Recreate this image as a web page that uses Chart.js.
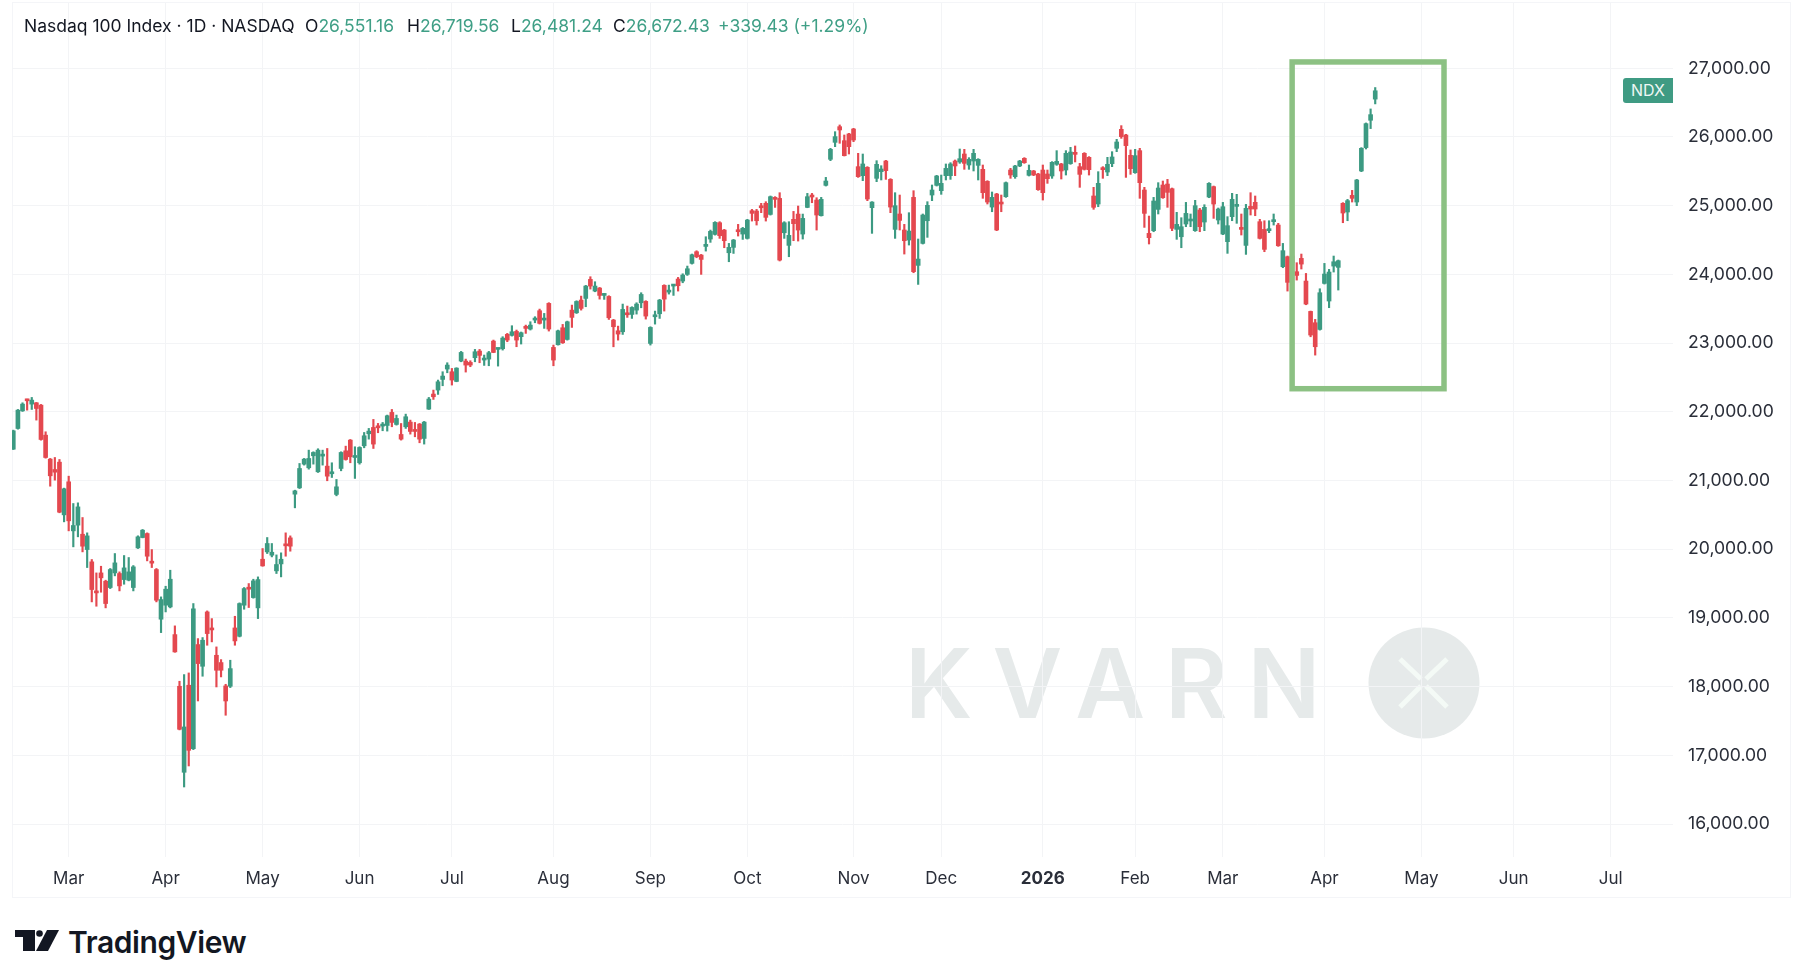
<!DOCTYPE html>
<html>
<head>
<meta charset="utf-8">
<title>Nasdaq 100 Index</title>
<script src="https://cdn.jsdelivr.net/npm/chart.js@4"></script>
<style>
  html, body { margin: 0; padding: 0; background: #fff; }
  #page { position: relative; width: 1802px; height: 968px; overflow: hidden; font-family: Inter, sans-serif; color: #131722; }
  #expensesWrap { position: absolute; left: 0; top: 0; width: 1802px; height: 968px; z-index: 1; }
  #header span { position: absolute; top: 15px; font-size: 17.5px; line-height: 22px; white-space: nowrap; z-index: 2; }
  #header b { font-weight: 400; color: #3f9f86; }
  #kvarn { position: absolute; left: 905px; top: 625px; font-size: 96px; line-height: 116px; font-weight: 600; letter-spacing: 20px; color: #e6eaea; white-space: nowrap; }
  #kvarnLogo { position: absolute; left: 1368px; top: 627px; }
  #ndx { position: absolute; left: 1623px; top: 78px; width: 50px; height: 25px; line-height: 25px; text-align: center; background: #3f9b83; color: #eef7f4; font-size: 16px; border-radius: 3px 0 0 3px; z-index: 2; }
  #tvLogo { position: absolute; left: 15px; top: 930px; }
  #tvName { position: absolute; left: 68px; top: 924px; font-size: 30px; line-height: 36px; font-weight: 600; letter-spacing: -0.4px; color: #131722; white-space: nowrap; }
</style>
</head>
<body>
<div id="page">
  <div id="kvarn">KVARN</div>
  <svg id="kvarnLogo" width="112" height="112" viewBox="0 0 112 112">
    <circle cx="56" cy="56" r="55.5" fill="#e6eaea"/>
    <g stroke="#f4faf6" stroke-width="5" fill="none">
      <path d="M32 32 L53 52 M79 32 L58 52 M32 80 L53 59 M79 80 L58 59"/>
    </g>
  </svg>
  <div id="expensesWrap"><canvas id="ndxChart" width="1802" height="968"></canvas></div>
  <div id="header">
    <span style="left:24px">Nasdaq 100 Index · 1D · NASDAQ</span>
    <span style="left:305px">O<b>26,551.16</b></span>
    <span style="left:407px">H<b>26,719.56</b></span>
    <span style="left:511px">L<b>26,481.24</b></span>
    <span style="left:613px">C<b>26,672.43</b></span>
    <span style="left:718px"><b>+339.43 (+1.29%)</b></span>
  </div>
  <div id="ndx">NDX</div>
  <svg id="tvLogo" width="44" height="22" viewBox="0 0 44 22">
    <path fill="#131722" d="M0 0H20V21H8V7H0Z"/>
    <circle fill="#131722" cx="24.5" cy="3.5" r="3.3"/>
    <path fill="#131722" d="M32 0H44L33 21H21Z"/>
  </svg>
  <div id="tvName">TradingView</div>
</div>
<script>
// Daily candles, oldest first
var opens = [
  21456,21757,22014,22179,22112,22131,22097,21660,21311,21160,
  21267,20500,20981,20267,20350,20218,19995,19816,19393,19655,
  19534,19442,19655,19646,19558,19549,19442,20019,20170,20228,
  19816,19704,18981,19185,19160,18757,18005,16753,18020,17097,
  18612,18296,19087,18840,18456,18350,18010,18005,18854,18733,
  19185,19432,19296,19146,19854,19961,19913,19685,19786,20063,
  20165,20801,20893,21238,21185,21360,21127,21355,21209,21098,
  20797,21175,21432,21588,21335,21258,21505,21680,21772,21777,
  21792,21801,21991,21816,21670,21782,21850,21724,21821,21612,
  22039,22258,22316,22471,22622,22583,22442,22738,22738,22719,
  22787,22884,22753,22767,23029,22908,22918,23127,23112,23170,
  23093,23233,23204,23335,23471,23335,23578,22937,22976,23223,
  23053,23480,23441,23626,23650,23927,23757,23801,23694,23679,
  23335,23179,23165,23441,23417,23480,23587,23607,22995,23383,
  23427,23840,23742,23830,23932,23903,24000,24160,24330,24281,
  24407,24514,24582,24752,24645,24315,24393,24636,24587,24524,
  24927,24922,24985,25034,24873,25121,25106,24606,24422,24801,
  24878,24587,24975,25140,25082,24854,25296,25675,25922,26150,
  25946,26044,26116,25568,25437,25558,24971,25398,25495,25650,
  25383,24655,24879,24646,24500,25121,24131,24451,24781,25155,
  25296,25218,25437,25437,25650,25636,25752,25592,25650,25587,
  25529,25354,24980,25170,25034,25131,25519,25422,25578,25689,
  25442,25505,25461,25519,25461,25432,25602,25607,25519,25612,
  25762,25568,25762,25704,25141,25024,25544,25490,25612,25835,
  26111,26029,25733,25480,25801,25228,24597,24636,24946,25301,
  25315,25247,24655,24548,24733,24777,24636,24937,24762,25126,
  25277,24791,24587,24476,24840,24990,24670,24422,24990,25049,
  24767,24655,24636,24767,24718,24112,24257,24267,24039,24233,
  23903,23461,23296,23199,23869,23612,24121,24102,25034,24908,
  25150,25053,25505,25845,26243,26551.16
];
var highs = [
  21733,22034,22131,22184,22209,22136,22107,21709,21321,21335,
  21306,20889,21063,20665,20675,20461,20238,19850,19655,19752,
  19549,19719,19937,19670,19908,19879,19762,20195,20287,20238,
  19995,19719,19306,19461,19694,18884,18078,18175,18199,19209,
  18699,18714,19102,18990,18578,18393,18034,18384,19024,19219,
  19442,19500,19563,19597,20010,20170,20083,19917,19947,20238,
  20194,20859,21248,21321,21442,21418,21462,21442,21466,21258,
  21015,21418,21500,21597,21491,21491,21699,21758,21889,21831,
  21845,21952,22034,21952,21830,21966,21879,21845,21830,21860,
  22209,22316,22462,22583,22714,22631,22641,22879,22767,22743,
  22908,22908,22826,22879,23044,22923,23093,23141,23253,23190,
  23161,23262,23311,23384,23495,23432,23588,22971,23189,23272,
  23320,23553,23616,23684,23840,23966,23893,23810,23723,23689,
  23345,23247,23568,23539,23529,23587,23733,23617,23238,23466,
  23636,23849,23844,23849,23956,24009,24121,24296,24344,24291,
  24548,24645,24767,24767,24655,24451,24509,24728,24684,24801,
  24946,24946,25034,25058,25141,25131,25189,24767,24767,24917,
  24995,24878,25179,25179,25116,25121,25412,25835,26077,26175,
  26029,26053,26126,25762,25752,25568,25058,25655,25582,25660,
  25393,25189,25155,24728,24898,25218,24515,24879,25058,25301,
  25442,25446,25607,25626,25665,25825,25820,25699,25820,25684,
  25592,25364,25199,25180,25155,25345,25544,25587,25660,25699,
  25592,25514,25471,25592,25519,25641,25801,25616,25801,25849,
  25869,25616,25772,25714,25267,25495,25568,25704,25786,25966,
  26165,26039,25811,25820,25835,25267,24849,25121,25335,25359,
  25383,25257,24903,24825,25048,24879,25078,24961,25014,25335,
  25286,24966,25048,24840,25180,25165,24879,25019,25189,25141,
  24801,24781,24781,24879,24743,24451,24267,24451,24170,24296,
  24014,23466,23345,23791,24160,24073,24267,24209,25044,25092,
  25223,25383,25845,26204,26408,26719.56
];
var lows = [
  21451,21747,22005,22024,22034,21879,21587,21325,20917,21005,
  20530,20398,20267,20034,20180,19961,19733,19233,19170,19374,
  19146,19427,19612,19393,19490,19539,19393,20010,20165,19830,
  19733,19233,18786,19087,19146,18500,17370,16539,16845,17083,
  17791,18151,18602,18651,17995,18141,17583,17986,18602,18723,
  19126,19151,19287,18990,19752,19937,19888,19646,19597,19898,
  19971,20602,20883,21224,21165,21238,21117,21224,20996,21044,
  20777,21141,21296,21258,21030,21238,21476,21602,21466,21695,
  21724,21719,21782,21806,21588,21758,21675,21636,21549,21530,
  22034,22180,22253,22379,22568,22389,22437,22728,22578,22656,
  22728,22714,22675,22670,22860,22665,22898,23020,23102,22947,
  22986,23141,23190,23296,23277,23214,23175,22670,22971,22995,
  23043,23228,23431,23480,23529,23786,23747,23640,23636,23344,
  22946,23043,23126,23374,23359,23422,23514,23349,22971,23276,
  23359,23466,23713,23694,23757,23878,23985,24150,24242,24000,
  24339,24466,24572,24524,24388,24184,24305,24558,24509,24514,
  24776,24718,24898,24776,24863,24975,24195,24524,24257,24490,
  24485,24514,24970,25043,24645,24849,25286,25655,25859,25908,
  25723,25752,25932,25412,25364,25073,24597,25349,25374,25383,
  24898,24524,24646,24296,24427,24024,23854,24442,24539,25073,
  25286,25165,25374,25383,25437,25616,25529,25529,25505,25374,
  25107,25024,24912,24636,24912,25121,25398,25398,25568,25616,
  25432,25437,25223,25082,25325,25398,25587,25388,25446,25602,
  25636,25267,25519,25446,24947,24985,25398,25437,25568,25786,
  25980,25412,25456,25471,25107,24684,24442,24621,24879,25107,
  24976,24636,24510,24388,24694,24694,24626,24621,24636,25116,
  24815,24733,24578,24306,24781,24743,24573,24291,24864,24854,
  24515,24330,24607,24718,24408,24097,23757,24087,23917,24078,
  23558,23092,22825,23189,23859,23515,24034,23772,24752,24781,
  25053,25000,25495,25825,26122,26481.24
];
var closes = [
  21723,22024,22112,22160,22170,22048,21597,21335,21068,21121,
  20539,20879,20413,20345,20616,20044,20194,19413,19364,19583,
  19209,19704,19801,19466,19728,19670,19743,20180,20277,19898,
  19797,19257,19267,19418,19563,18505,17379,17413,17073,19131,
  18335,18675,18772,18825,18238,18238,17791,18262,18665,19209,
  19427,19418,19539,19558,19757,20083,19956,19777,19854,20049,
  20044,20849,21175,21311,21321,21408,21442,21364,21063,21107,
  20908,21408,21306,21345,21345,21481,21651,21719,21530,21767,
  21806,21942,21845,21903,21602,21928,21714,21714,21602,21850,
  22185,22219,22437,22520,22680,22462,22636,22864,22680,22680,
  22874,22821,22772,22860,22864,22918,23073,23044,23165,23044,
  23151,23214,23262,23359,23287,23345,23204,22753,23179,23005,
  23310,23374,23606,23505,23830,23830,23830,23694,23708,23369,
  23238,23131,23490,23412,23519,23568,23708,23393,23228,23403,
  23626,23640,23767,23840,23835,23990,24082,24286,24257,24218,
  24437,24626,24757,24563,24490,24393,24500,24621,24670,24791,
  24888,24781,24970,24830,25131,25092,24208,24752,24568,24738,
  24645,24815,25131,25126,24864,25092,25359,25820,26005,26102,
  25728,25859,25956,25422,25607,25097,25053,25602,25534,25510,
  24980,25000,24786,24490,24631,24039,24223,24864,25005,25228,
  25432,25325,25543,25607,25578,25684,25616,25675,25762,25675,
  25189,25053,25121,24646,25024,25335,25447,25578,25650,25626,
  25514,25447,25233,25189,25393,25631,25645,25505,25762,25781,
  25747,25456,25529,25524,24976,25325,25524,25602,25709,25927,
  26005,25874,25539,25728,25335,24888,24534,25068,25257,25116,
  25194,24670,24728,24694,24888,24786,25000,24694,24976,25325,
  25024,24951,24985,24709,25092,25000,24655,24961,24951,24951,
  24524,24364,24655,24781,24417,24345,23884,24170,23985,24150,
  23568,23117,22947,23733,24005,24034,24184,24199,24893,25073,
  25107,25374,25835,26194,26325,26672.43
];

// Bar number of each month label, counted from the first candle
var monthBars = [12, 33, 54, 75, 95, 117, 138, 159, 182, 201, 223, 243, 262, 284, 305, 325, 346];
var monthNames = ["Mar", "Apr", "May", "Jun", "Jul", "Aug", "Sep", "Oct", "Nov", "Dec", "2026", "Feb", "Mar", "Apr", "May", "Jun", "Jul"];
var priceTicks = [16000, 17000, 18000, 19000, 20000, 21000, 22000, 23000, 24000, 25000, 26000, 27000];

// The green box around the last weeks, in bars and price
var boxBars = [277, 309.9];
var boxPrices = [22336, 27092];

var UP = "#3c9a82";
var DOWN = "#e4484f";
var GRID = "#f3f4f6";

var barColours = closes.map(function (c, i) { return c >= opens[i] ? UP : DOWN; });

var framePlugin = {
    id: 'frame',
    beforeDraw: function (chart) {
        var c = chart.ctx;
        c.save();
        c.strokeStyle = "#f4f5f8";
        c.lineWidth = 1;
        c.strokeRect(12.5, 2.5, 1778, 895);
        c.restore();
    }
};

var boxPlugin = {
    id: 'greenBox',
    afterDatasetsDraw: function (chart) {
        var x = chart.scales.x, y = chart.scales.y, c = chart.ctx;
        var left = x.getPixelForValue(boxBars[0]), right = x.getPixelForValue(boxBars[1]);
        var top = y.getPixelForValue(boxPrices[1]), bottom = y.getPixelForValue(boxPrices[0]);
        c.save();
        c.strokeStyle = "#8cc183";
        c.lineWidth = 5.5;
        c.strokeRect(left, top, right - left, bottom - top);
        c.restore();
    }
};

document.addEventListener("DOMContentLoaded", function () {
    var myContext = document.getElementById("ndxChart").getContext('2d');

    var myChart = new Chart(myContext, {
        type: 'bar',
        data: {
            datasets: [{
                label: 'Body',
                data: opens.map(function (o, i) { return { x: i, y: [o, closes[i]] }; }),
                backgroundColor: barColours,
                barThickness: 4,
                minBarLength: 2,
                grouped: false
            }, {
                label: 'Wick',
                data: highs.map(function (h, i) { return { x: i, y: [lows[i], h] }; }),
                backgroundColor: barColours,
                barThickness: 1.5,
                grouped: false
            }],
        },
        options: {
            responsive: false,
            animation: false,
            devicePixelRatio: 1,
            layout: { autoPadding: false, padding: { left: 12, right: 12, top: 3, bottom: 71 } },
            plugins: {
                legend: { display: false },
                tooltip: { enabled: false },
                title: { display: false }
            },
            scales: {
                x: {
                    type: 'linear',
                    min: -0.28,
                    max: 359.5,
                    offset: false,
                    border: { display: false },
                    grid: { color: GRID, lineWidth: 1, drawTicks: false, offset: false },
                    afterBuildTicks: function (axis) {
                        axis.ticks = monthBars.map(function (b) { return { value: b }; });
                    },
                    afterFit: function (axis) {
                        axis.height = 40;
                        axis.paddingTop = axis.paddingBottom = axis.paddingLeft = axis.paddingRight = 0;
                    },
                    ticks: {
                        autoSkip: false,
                        maxRotation: 0,
                        padding: 12,
                        color: "#2a2e39",
                        font: function (ctx) {
                            return { family: 'Inter', size: 17, weight: ctx.tick && ctx.tick.value === 223 ? '700' : '400' };
                        },
                        callback: function (value) {
                            return monthNames[monthBars.indexOf(value)];
                        }
                    }
                },
                y: {
                    position: 'right',
                    min: 15520,
                    max: 27950,
                    border: { display: false },
                    grid: { color: GRID, lineWidth: 1, drawTicks: false },
                    afterBuildTicks: function (axis) {
                        axis.ticks = priceTicks.map(function (v) { return { value: v }; });
                    },
                    afterFit: function (axis) {
                        axis.width = 117;
                        axis.paddingTop = axis.paddingBottom = axis.paddingLeft = axis.paddingRight = 0;
                    },
                    ticks: {
                        padding: 15,
                        color: "#2a2e39",
                        font: { family: 'Inter', size: 17.6 },
                        callback: function (value) {
                            return value.toLocaleString('en-US', { minimumFractionDigits: 2 });
                        }
                    }
                }
            }
        },
        plugins: [framePlugin, boxPlugin]
    });
});
</script>
</body>
</html>
